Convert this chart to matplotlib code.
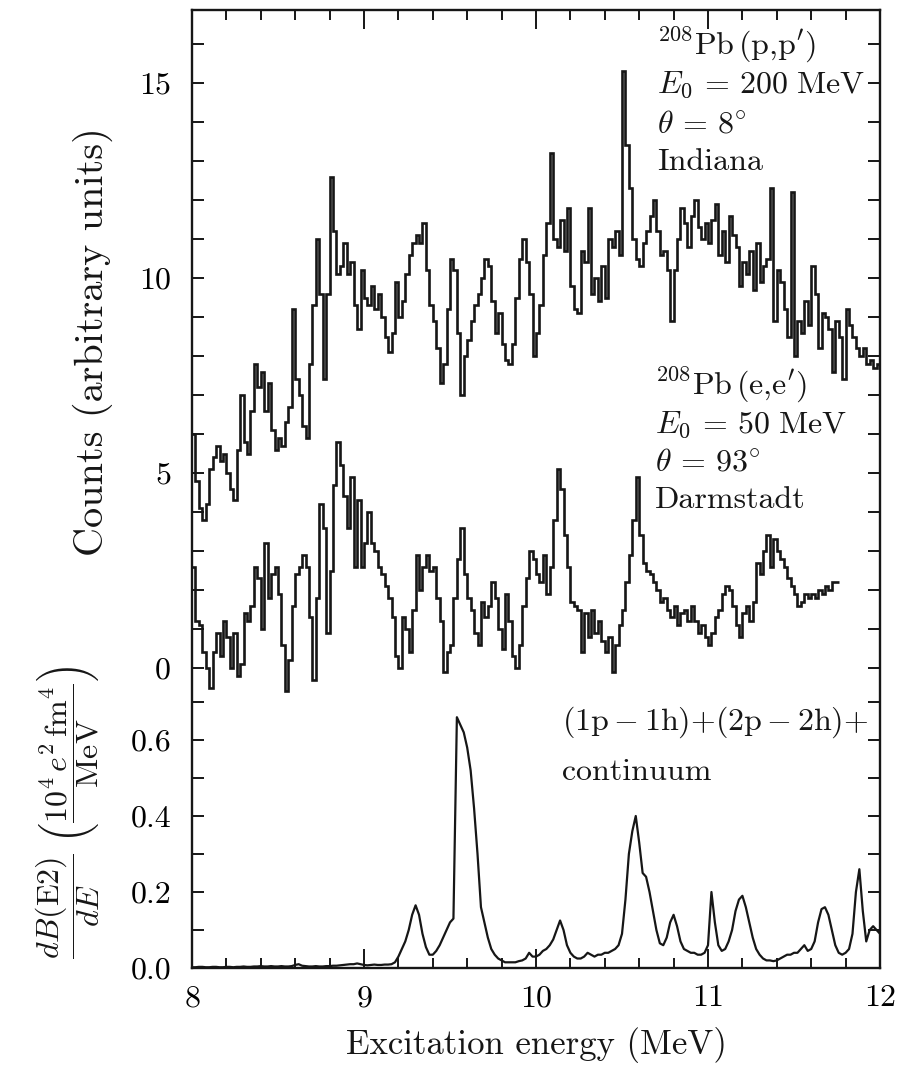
import numpy as np
import matplotlib
matplotlib.use("Agg")
from matplotlib import pyplot as plt
from matplotlib.ticker import FixedLocator, FormatStrFormatter

# 208Pb(p,p') counts, 0.02 MeV bins starting at 8.00 MeV
pp_counts = [
    6.0, 4.8, 4.1, 3.8, 4.2, 5.1, 5.4, 5.7, 5.3, 5.5,
    5.0, 4.6, 4.3, 5.6, 7.0, 5.8, 5.5, 6.6, 7.8, 7.2,
    7.6, 6.6, 7.3, 6.1, 5.6, 5.9, 5.7, 6.3, 6.7, 9.2,
    7.4, 7.0, 6.2, 5.9, 7.8, 9.3, 11.0, 9.6, 7.4, 9.6,
    12.6, 11.2, 10.1, 10.3, 10.9, 10.1, 10.4, 9.3, 8.7, 10.2,
    9.5, 9.3, 9.8, 9.2, 9.6, 9.0, 8.5, 8.1, 8.6, 9.9,
    9.0, 9.4, 10.1, 10.6, 10.9, 11.1, 10.9, 11.4, 10.2, 9.3,
    8.9, 8.2, 7.3, 7.8, 9.2, 10.5, 10.2, 8.6, 7.0, 8.0,
    8.4, 8.9, 9.3, 9.6, 10.0, 10.5, 10.3, 9.4, 8.6, 9.1,
    8.3, 7.9, 7.8, 8.3, 9.5, 10.5, 11.0, 10.4, 9.6, 8.0,
    8.6, 9.3, 10.6, 11.4, 13.2, 11.0, 10.8, 11.5, 10.7, 11.8,
    9.8, 9.2, 9.1, 10.7, 10.4, 11.8, 9.6, 10.0, 9.4, 10.3,
    9.5, 11.0, 10.8, 11.2, 10.6, 15.3, 13.4, 12.3, 11.0, 10.5,
    10.3, 10.9, 11.2, 11.6, 12.0, 11.2, 10.6, 10.7, 10.2, 8.9,
    10.2, 11.0, 11.8, 11.4, 10.8, 11.6, 12.0, 11.3, 11.0, 11.4,
    10.9, 11.5, 11.9, 10.6, 11.2, 10.4, 11.6, 11.1, 10.8, 9.8,
    10.4, 10.1, 10.7, 9.7, 10.9, 9.9, 10.3, 10.5, 12.3, 8.9,
    10.2, 9.9, 9.2, 8.5, 12.2, 8.0, 8.9, 8.6, 9.4, 8.8,
    10.3, 9.6, 8.2, 9.1, 9.0, 8.7, 7.6, 8.9, 8.5, 7.4,
    9.2, 8.8, 8.5, 8.2, 8.0, 8.2, 7.8, 7.9, 7.7, 7.8,
]

# 208Pb(e,e') counts, 0.02 MeV bins starting at 8.00 MeV
ee_counts = [
    2.6, 1.2, 1.1, 0.4, 0.0, -0.5, 0.4, 0.9, 0.3, 1.2,
    0.8, 0.0, 0.9, -0.2, 0.1, 1.4, 1.2, 1.6, 2.6, 2.3,
    1.0, 3.2, 1.8, 2.4, 2.6, 1.9, 0.6, -0.6, 0.2, 1.6,
    2.4, 2.6, 2.9, 2.6, 1.3, -0.3, 1.8, 4.2, 3.6, 0.9,
    2.5, 4.7, 5.8, 5.2, 4.4, 3.6, 4.9, 2.6, 4.3, 2.6,
    3.2, 4.0, 3.2, 3.0, 2.6, 2.4, 2.1, 1.8, 1.3, 0.3,
    0.0, 1.3, 1.0, 0.4, 1.5, 2.9, 2.0, 2.6, 2.9, 2.5,
    2.6, 1.8, 1.2, -0.1, 0.4, 0.6, 1.8, 2.8, 3.6, 2.4,
    1.8, 1.5, 0.9, 0.6, 1.7, 1.3, 1.6, 2.2, 1.8, 1.0,
    0.5, 1.9, 1.2, 0.3, 0.0, 0.6, 1.6, 2.3, 3.0, 2.8,
    2.4, 2.2, 2.9, 1.9, 2.6, 3.8, 5.1, 4.6, 3.4, 2.6,
    1.7, 1.6, 1.5, 0.4, 1.4, 0.8, 1.5, 0.9, 1.2, 0.7,
    0.4, 0.8, -0.1, 0.6, 1.1, 1.5, 2.2, 2.9, 3.8, 4.9,
    3.4, 2.7, 2.5, 2.4, 2.2, 2.0, 1.7, 1.8, 1.5, 1.3,
    1.6, 1.1, 1.4, 1.5, 1.2, 1.6, 1.2, 0.9, 1.1, 0.8,
    0.6, 0.9, 1.3, 1.5, 1.9, 2.1, 2.0, 1.6, 1.1, 0.8,
    1.4, 1.6, 1.2, 1.7, 2.7, 2.4, 3.0, 3.4, 2.6, 3.3,
    3.0, 2.8, 2.6, 2.3, 2.1, 1.9, 1.6, 1.7, 1.9, 1.8,
    1.9, 1.8, 2.0, 1.9, 2.1, 2.0, 2.2, 2.2,
]

# calculated dB(E2)/dE strength, sampled every 0.02 MeV from 8.00 to 12.00 MeV
be2_strength = [
    0.002, 0.002, 0.003, 0.003, 0.002, 0.002, 0.003, 0.003, 0.002, 0.002,
    0.003, 0.003, 0.002, 0.003, 0.003, 0.004, 0.003, 0.003, 0.004, 0.004,
    0.005, 0.004, 0.004, 0.005, 0.004, 0.004, 0.005, 0.004, 0.004, 0.005,
    0.008, 0.010, 0.006, 0.005, 0.004, 0.004, 0.005, 0.004, 0.004, 0.005,
    0.005, 0.006, 0.006, 0.007, 0.008, 0.009, 0.010, 0.010, 0.012, 0.010,
    0.008, 0.007, 0.008, 0.009, 0.008, 0.008, 0.009, 0.009, 0.010, 0.015,
    0.030, 0.050, 0.070, 0.100, 0.140, 0.165, 0.140, 0.090, 0.055, 0.035,
    0.035, 0.045, 0.060, 0.080, 0.100, 0.120, 0.130, 0.660, 0.640, 0.620,
    0.580, 0.520, 0.420, 0.300, 0.160, 0.120, 0.080, 0.050, 0.035, 0.025,
    0.020, 0.015, 0.015, 0.015, 0.015, 0.018, 0.020, 0.025, 0.040, 0.030,
    0.030, 0.035, 0.045, 0.050, 0.060, 0.075, 0.100, 0.125, 0.100, 0.060,
    0.040, 0.030, 0.025, 0.025, 0.030, 0.040, 0.035, 0.030, 0.035, 0.035,
    0.040, 0.040, 0.045, 0.050, 0.060, 0.090, 0.180, 0.300, 0.360, 0.400,
    0.330, 0.250, 0.240, 0.200, 0.150, 0.100, 0.065, 0.060, 0.080, 0.120,
    0.140, 0.110, 0.070, 0.050, 0.045, 0.040, 0.040, 0.035, 0.035, 0.040,
    0.060, 0.200, 0.120, 0.060, 0.045, 0.050, 0.070, 0.100, 0.150, 0.180,
    0.190, 0.160, 0.120, 0.080, 0.050, 0.035, 0.025, 0.020, 0.020, 0.018,
    0.020, 0.025, 0.030, 0.035, 0.035, 0.040, 0.040, 0.050, 0.060, 0.045,
    0.050, 0.070, 0.120, 0.155, 0.160, 0.140, 0.100, 0.060, 0.040, 0.035,
    0.040, 0.050, 0.090, 0.200, 0.260, 0.150, 0.070, 0.100, 0.110, 0.100,
    0.090,
]

E_START = 8.0
BIN = 0.02

plt.rcParams['font.family'] = 'cmr10'
plt.rcParams['mathtext.fontset'] = 'cm'
plt.rcParams['axes.formatter.use_mathtext'] = True
plt.rcParams['font.size'] = 23

INK = '#161616'

fig = plt.figure(figsize=(9.06, 10.69), dpi=100)
rect = [192 / 906, 101 / 1069, 688 / 906, 958 / 1069]

ax = fig.add_axes(rect)
ax_b = fig.add_axes(rect, frameon=False)
ax_b.patch.set_alpha(0)

pp_edges = E_START + BIN * np.arange(len(pp_counts) + 1)
ee_edges = E_START + BIN * np.arange(len(ee_counts) + 1)
be2_e = E_START + BIN * np.arange(len(be2_strength))

ax.stairs(pp_counts, pp_edges, baseline=None, color=INK, lw=1.9)
ax.stairs(ee_counts, ee_edges, baseline=None, color=INK, lw=1.9)
ax_b.plot(be2_e, be2_strength, color=INK, lw=1.6)

for a in (ax, ax_b):
    a.set_xlim(8, 12)

ax.set_ylim((668 - 968) / 39, (668 - 10) / 39)
ax_b.set_ylim(0, 958 / 380)

# x axis on the main axes
ax.xaxis.set_major_locator(FixedLocator([8, 9, 10, 11, 12]))
ax.xaxis.set_minor_locator(FixedLocator(np.arange(8, 12.01, 0.2)))
ax.tick_params(axis='x', which='both', direction='in', top=True, bottom=True,
               width=1.4, pad=12, color=INK)
ax.tick_params(axis='x', which='major', length=14)
ax.tick_params(axis='x', which='minor', length=7)

# counts scale
ax.yaxis.set_major_locator(FixedLocator([0, 5, 10, 15]))
ax.yaxis.set_minor_locator(FixedLocator([v for v in range(1, 17) if v % 5]))
ax.tick_params(axis='y', which='both', direction='in', left=True, right=True,
               length=8.5, width=1.4, pad=15, color=INK)

# strength scale
ax_b.set_xticks([])
ax_b.yaxis.set_major_locator(FixedLocator([0.0, 0.2, 0.4, 0.6]))
ax_b.yaxis.set_minor_locator(FixedLocator([0.1, 0.3, 0.5, 0.7]))
ax_b.yaxis.set_major_formatter(FormatStrFormatter('%.1f'))
ax_b.tick_params(axis='y', which='both', direction='in', left=True, right=True,
                 length=8.5, width=1.4, pad=15, color=INK)

for sp in ax.spines.values():
    sp.set_linewidth(1.7)
    sp.set_color(INK)


def axfrac(px, py):
    return (px - 192) / 688, (968 - py) / 958


fs = 23
lines_pp = [r'$^{208}\mathrm{Pb}\,(\mathrm{p{,}p^{\prime}})$',
            r'$E_0\,=\,200\ \mathrm{MeV}$',
            r'$\theta\,=\,8^{\circ}$',
            'Indiana']
for txt, py in zip(lines_pp, [45, 85, 125, 162]):
    ax.text(*axfrac(657, py), txt, transform=ax.transAxes, fontsize=fs,
            ha='left', va='center', color=INK)

lines_ee = [r'$^{208}\mathrm{Pb}\,(\mathrm{e{,}e^{\prime}})$',
            r'$E_0\,=\,50\ \mathrm{MeV}$',
            r'$\theta\,=\,93^{\circ}$',
            'Darmstadt']
for txt, py in zip(lines_ee, [385, 425, 463, 500]):
    ax.text(*axfrac(655, py), txt, transform=ax.transAxes, fontsize=fs,
            ha='left', va='center', color=INK)

ax.text(*axfrac(562, 722),
        r'$(1\mathrm{p}-1\mathrm{h}){+}(2\mathrm{p}-2\mathrm{h}){+}$',
        transform=ax.transAxes, fontsize=fs, ha='left', va='center', color=INK)
ax.text(*axfrac(562, 772), 'continuum', transform=ax.transAxes,
        fontsize=fs, ha='left', va='center', color=INK)

fig.text(93 / 906, 1 - 342 / 1069, 'Counts (arbitrary units)', rotation=90,
         ha='center', va='center', fontsize=29, color=INK)
fig.text(68 / 906, 1 - 812 / 1069,
         r'$\dfrac{dB(\mathrm{E2})}{dE}\ \left(\dfrac{10^4\,e^2\,\mathrm{fm}^4}{\mathrm{MeV}}\right)$',
         rotation=90, ha='center', va='center', fontsize=fs, color=INK)
fig.text(536 / 906, 1 - 1045 / 1069, 'Excitation energy (MeV)',
         ha='center', va='center', fontsize=25, color=INK)

fig.savefig('out.png', dpi=100, facecolor='white')
